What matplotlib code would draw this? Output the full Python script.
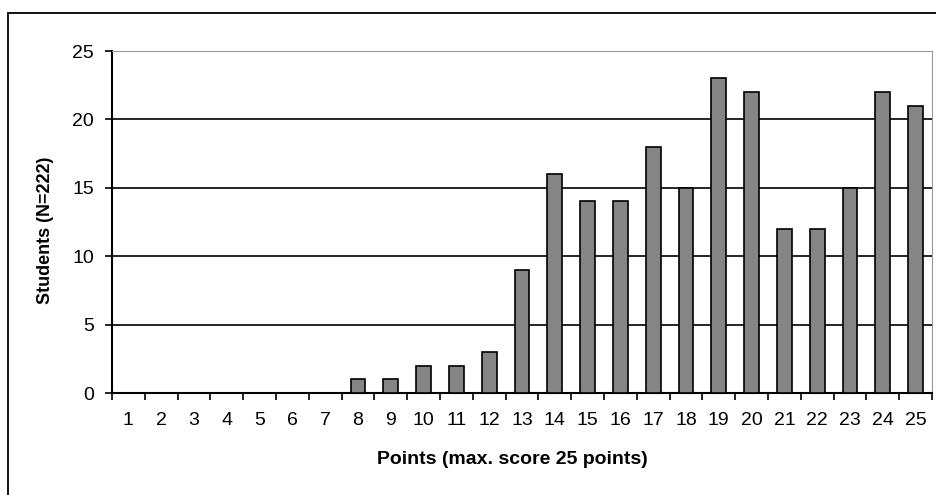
import matplotlib
matplotlib.use("Agg")
import matplotlib.pyplot as plt
from matplotlib.patches import Rectangle

points = list(range(1, 26))
students = [0, 0, 0, 0, 0, 0, 0, 1, 1, 2, 2, 3, 9, 16, 14, 14, 18, 15, 23, 22, 12, 12, 15, 22, 21]
yticks = [0, 5, 10, 15, 20, 25]

plt.rcParams['font.family'] = ['Liberation Sans', 'DejaVu Sans']

W, H = 937, 495
fig = plt.figure(figsize=(W / 100, H / 100), dpi=100)

# outer frame
fig.patches.append(Rectangle((8 / W, -0.05), 1.2, 1 - 13 / H + 0.05, transform=fig.transFigure,
                             fill=False, edgecolor='black', linewidth=1.3))

left, right, top, bottom = 112, 932, 51, 393
ax = fig.add_axes([left / W, 1 - bottom / H, (right - left) / W, (bottom - top) / H])

ax.bar(points, students, width=0.45, color='#858585', edgecolor='black', linewidth=1.2, zorder=3)

ax.set_xlim(0.5, 25.5)
ax.set_ylim(0, 25)
ax.set_yticks(yticks)
ax.yaxis.grid(True, color='black', linewidth=1.2, zorder=0)

ax.set_xticks([p - 0.5 for p in points] + [25.5])
ax.set_xticklabels([])
ax.set_xticks(points, minor=True)
ax.set_xticklabels([str(p) for p in points], minor=True, fontsize=14)
ax.tick_params(axis='x', which='minor', length=0, pad=14)
ax.tick_params(axis='x', which='major', length=5, width=1.2, direction='out')
ax.tick_params(axis='y', length=5, width=1.2, labelsize=14, pad=8)

for s in ['left', 'bottom']:
    ax.spines[s].set_linewidth(1.5)
for s in ['top', 'right']:
    ax.spines[s].set_color('#999999')
    ax.spines[s].set_linewidth(0.8)

fig.text(512 / W, 1 - 459 / H, 'Points (max. score 25 points)', ha='center', va='center',
         fontsize=14, fontweight='bold')
fig.text(46 / W, 1 - 230 / H, 'Students (N=222)', ha='center', va='center',
         rotation=90, fontsize=13, fontweight='bold')

fig.savefig('out.png', dpi=100, facecolor='white')
